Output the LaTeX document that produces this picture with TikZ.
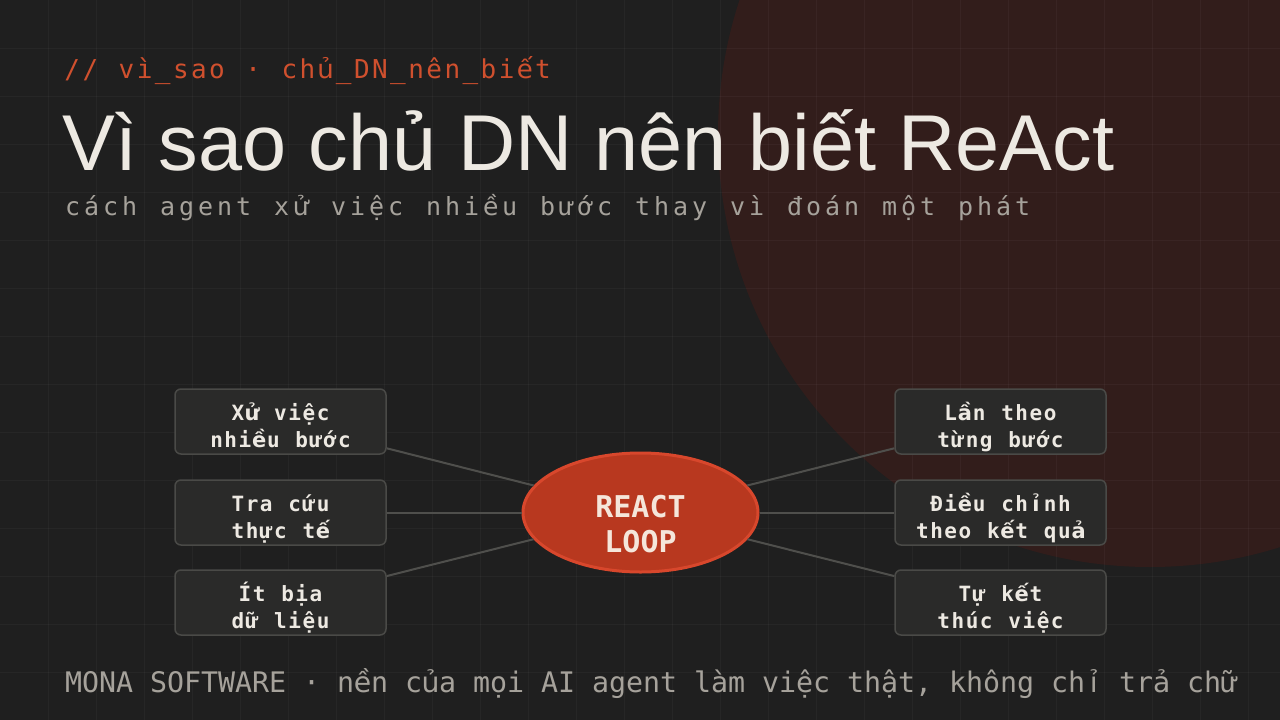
\documentclass[tikz,border=0pt]{standalone}
\usepackage{fontspec}
\setmainfont{Liberation Sans}
\newfontfamily\monof{DejaVu Sans Mono}
\newfontfamily\monob{DejaVu Sans Mono Bold}
\newfontfamily\dvs{DejaVu Sans}
\newfontfamily\dvsb{DejaVu Sans Bold}
\usetikzlibrary{shapes.geometric}
\definecolor{bgc}{HTML}{1F1F1F}
\definecolor{circc}{HTML}{321D1B}
\definecolor{tagc}{HTML}{D0502E}
\definecolor{titlec}{HTML}{EDE9E2}
\definecolor{subc}{HTML}{A6A29B}
\definecolor{boxfill}{HTML}{2A2A29}
\definecolor{boxline}{HTML}{4A4A47}
\definecolor{connc}{HTML}{4F4F4C}
\definecolor{loopfill}{HTML}{B8381F}
\definecolor{loopline}{HTML}{D8472C}
\definecolor{looptext}{HTML}{F5E6DA}
\makeatletter
% fixed-advance monospace text, one grapheme per cell;
% letters the mono font lacks are taken from DejaVu Sans
\newcommand\fbfont{\dvs}
\newcommand\trkone[1]{\iffontchar\font`#1 #1\else{\fbfont#1}\fi}
\newcommand\trk[2]{\@tfor\trkc:=#2\do{\makebox[#1][c]{\expandafter\trkone\expandafter{\trkc}}}}
\makeatother
\newcommand\twol[2]{\rule{0pt}{31pt}\trk{14.2pt}{#1}\\\trk{14.2pt}{#2}\rule[-7pt]{0pt}{0pt}}
\tikzset{
  gridline/.style={white, opacity=0.035, line width=1pt},
  itembox/.style={draw=boxline, fill=boxfill, line width=1.5pt, rounded corners=6pt,
    minimum width=211pt, minimum height=63pt, inner sep=0pt, align=center,
    text=titlec, font=\monob\let\fbfont\dvsb\fontsize{21}{27}\selectfont},
  loopnode/.style={ellipse, draw=loopline, fill=loopfill, line width=3pt,
    minimum width=235pt, minimum height=119pt, inner sep=0pt, align=center,
    text=looptext, font=\monob\fontsize{30}{35}\selectfont},
  conn/.style={draw=connc, line width=2pt},
  txt/.style={anchor=base west, inner sep=0pt}
}
\begin{document}
\begin{tikzpicture}[x=1pt,y=-1pt]
\useasboundingbox (0,0) rectangle (1280,720);
\clip (0,0) rectangle (1280,720);
\fill[bgc] (0,0) rectangle (1280,720);
\fill[circc] (1150,135) circle[radius=432];
\foreach \i in {1,...,26} \draw[gridline] (48*\i,0) -- (48*\i,720);
\foreach \i in {1,...,14} \draw[gridline] (0,48*\i) -- (1280,48*\i);

\node[txt, text=tagc, font=\monof\fontsize{26}{26}\selectfont] (tag) at (63,78)
  {\trk{18.1pt}{//~vì\_sao~·~chủ\_DN\_nên\_biết}};
\node[txt, text=titlec, font=\fontsize{79.2}{80}\selectfont] (title) at (62,170)
  {Vì sao chủ DN nên biết ReAct};
\node[txt, text=subc, font=\monof\fontsize{25}{25}\selectfont] (sub) at (63,215)
  {\trk{19pt}{cách~agent~xử~việc~nhiều~bước~thay~vì~đoán~một~phát}};
\node[txt, text=subc, font=\monof\fontsize{28.3}{28.3}\selectfont] (foot) at (65,692)
  {\trk{17pt}{MONA~SOFTWARE~·~nền~của~mọi~AI~agent~làm~việc~thật,~không~chỉ~trả~chữ}};

\node[loopnode] (loop) at (640.5,512.5)
  {\rule{0pt}{45.5pt}REACT\\LOOP\rule[-1.5pt]{0pt}{0pt}};
\node[itembox] (l1) at (280.5,421.5) {\twol{Xử~việc}{nhiều~bước}};
\node[itembox] (l2) at (280.5,512.5) {\twol{Tra~cứu}{thực~tế}};
\node[itembox] (l3) at (280.5,602.5) {\twol{Ít~bịa}{dữ~liệu}};
\node[itembox] (r1) at (1000.5,421.5) {\twol{Lần~theo}{từng~bước}};
\node[itembox] (r2) at (1000.5,512.5) {\twol{Điều~chỉnh}{theo~kết~quả}};
\node[itembox] (r3) at (1000.5,602.5) {\twol{Tự~kết}{thúc~việc}};

\foreach \b in {l1,l2,l3,r1,r2,r3} \draw[conn] (\b) -- (loop);
\end{tikzpicture}
\end{document}
